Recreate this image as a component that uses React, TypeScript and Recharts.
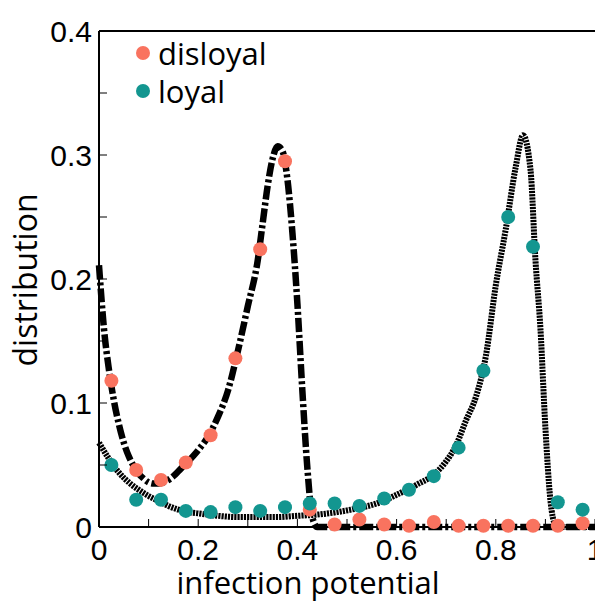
import React from 'react';
import {
  ComposedChart,
  Line,
  Scatter,
  XAxis,
  YAxis,
  ReferenceLine,
} from 'recharts';

const DISLOYAL_COLOR = '#F9735F';
const LOYAL_COLOR = '#139690';

// sampled infection potentials (bin centres)
const sampleX = [
  0.025, 0.075, 0.125, 0.175, 0.225, 0.275, 0.325, 0.375, 0.425, 0.475,
  0.525, 0.575, 0.625, 0.675, 0.725, 0.775, 0.825, 0.875, 0.925, 0.975,
];
const disloyalSamples = [
  0.118, 0.046, 0.038, 0.052, 0.074, 0.136, 0.224, 0.295, 0.014, 0.002,
  0.006, 0.002, 0.001, 0.004, 0.001, 0.001, 0.001, 0.001, 0.001, 0.003,
];
const loyalSamples = [
  0.05, 0.022, 0.022, 0.013, 0.012, 0.016, 0.013, 0.016, 0.019, 0.019,
  0.017, 0.023, 0.03, 0.041, 0.064, 0.126, 0.25, 0.226, 0.02, 0.014,
];

// model curves
const disloyalCurveX = [
  0, 0.01, 0.02, 0.03, 0.04, 0.05, 0.06, 0.07, 0.08, 0.09, 0.1, 0.11, 0.12,
  0.13, 0.14, 0.15, 0.16, 0.18, 0.2, 0.22, 0.24, 0.26, 0.28, 0.3, 0.32, 0.33,
  0.34, 0.35, 0.36, 0.37, 0.38, 0.39, 0.4, 0.41, 0.42, 0.43, 0.44, 0.6, 0.8, 1,
];
const disloyalCurveY = [
  0.211, 0.16, 0.127, 0.102, 0.083, 0.068, 0.057, 0.049, 0.043, 0.039, 0.036,
  0.035, 0.035, 0.036, 0.038, 0.041, 0.045, 0.053, 0.062, 0.073, 0.089, 0.11,
  0.142, 0.178, 0.215, 0.245, 0.275, 0.297, 0.307, 0.303, 0.28, 0.237, 0.18,
  0.11, 0.048, 0.008, 0, 0, 0, 0,
];
const loyalCurveX = [
  0, 0.02, 0.04, 0.06, 0.08, 0.1, 0.12, 0.14, 0.16, 0.18, 0.2, 0.24, 0.28,
  0.32, 0.36, 0.4, 0.44, 0.48, 0.52, 0.56, 0.6, 0.64, 0.68, 0.7, 0.72, 0.74,
  0.76, 0.78, 0.8, 0.82, 0.84, 0.855, 0.87, 0.88, 0.89, 0.9, 0.91, 0.92, 0.93, 1,
];
const loyalCurveY = [
  0.068, 0.055, 0.044, 0.036, 0.03, 0.025, 0.021, 0.017, 0.014, 0.012, 0.011,
  0.009, 0.008, 0.008, 0.008, 0.009, 0.01, 0.012, 0.015, 0.019, 0.026, 0.034,
  0.044, 0.053, 0.066, 0.086, 0.105, 0.138, 0.195, 0.24, 0.29, 0.316, 0.288,
  0.215, 0.16, 0.08, 0.022, 0.002, 0, 0,
];

const xTicks = [0, 0.1, 0.2, 0.3, 0.4, 0.5, 0.6, 0.7, 0.8, 0.9, 1];
const xTickLabels = ['0', '', '0.2', '', '0.4', '', '0.6', '', '0.8', '', '1'];
const yTicks = [0, 0.05, 0.1, 0.15, 0.2, 0.25, 0.3, 0.35, 0.4];
const yTickLabels = ['0', '', '0.1', '', '0.2', '', '0.3', '', '0.4'];

const legendItems = [
  { name: 'disloyal', color: DISLOYAL_COLOR },
  { name: 'loyal', color: LOYAL_COLOR },
];

const zip = (xs: number[], ys: number[]) => xs.map((x, i) => ({ x, y: ys[i] }));

const disloyalPoints = zip(sampleX, disloyalSamples);
const loyalPoints = zip(sampleX, loyalSamples);
const disloyalCurve = zip(disloyalCurveX, disloyalCurveY);
const loyalCurve = zip(loyalCurveX, loyalCurveY);

const TICK_FONT = '"Liberation Sans", Arial, sans-serif';
const LABEL_FONT = '"Open Sans", sans-serif';

function XTick(props: any) {
  const { x, y, index } = props;
  const label = xTickLabels[index];
  return (
    <g>
      <line x1={x} y1={y} x2={x} y2={y - 8} stroke="#000" strokeWidth={1} />
      {label && (
        <text x={x} y={y + 33} textAnchor="middle" fontFamily={TICK_FONT} fontSize={30} fill="#000">
          {label}
        </text>
      )}
    </g>
  );
}

function YTick(props: any) {
  const { x, y, index } = props;
  const label = yTickLabels[index];
  return (
    <g>
      <line x1={x} y1={y} x2={x + 8} y2={y} stroke="#000" strokeWidth={1} />
      {label && (
        <text x={x - 7} y={y + 11} textAnchor="end" fontFamily={TICK_FONT} fontSize={30} fill="#000">
          {label}
        </text>
      )}
    </g>
  );
}

const dot = (color: string) => (props: any) => (
  <circle cx={props.cx} cy={props.cy} r={7} fill={color} />
);

// legend sits inside the plot, top-left
function LegendBox() {
  return (
    <div
      style={{
        position: 'absolute',
        left: 136,
        top: 34,
        fontFamily: LABEL_FONT,
        fontSize: 31,
        color: '#000',
      }}
    >
      {legendItems.map((item) => (
        <div key={item.name} style={{ display: 'flex', alignItems: 'center', height: 38 }}>
          <span
            style={{
              display: 'inline-block',
              width: 14,
              height: 14,
              borderRadius: '50%',
              background: item.color,
              marginRight: 8,
            }}
          />
          <span style={{ lineHeight: '38px' }}>{item.name}</span>
        </div>
      ))}
    </div>
  );
}

export default function App() {
  return (
    <div style={{ position: 'absolute', left: 0, top: 0, width: 595, height: 603, background: '#fff' }}>
      <ComposedChart width={595} height={603} margin={{ top: 31, right: 0, bottom: 0, left: 0 }}>
        <XAxis
          dataKey="x"
          type="number"
          domain={[0, 1]}
          ticks={xTicks}
          interval={0}
          height={76}
          axisLine={{ stroke: '#000', strokeWidth: 2 }}
          tickLine={false}
          tickSize={0}
          tickMargin={0}
          tick={<XTick />}
          label={{
            content: () => (
              <text x={308} y={594} textAnchor="middle" fontFamily={LABEL_FONT} fontSize={31} fill="#000">
                infection potential
              </text>
            ),
          }}
        />
        <YAxis
          dataKey="y"
          type="number"
          domain={[0, 0.4]}
          ticks={yTicks}
          interval={0}
          width={99}
          axisLine={{ stroke: '#000', strokeWidth: 2 }}
          tickLine={false}
          tickSize={0}
          tickMargin={0}
          tick={<YTick />}
          label={{
            content: () => (
              <text
                x={37}
                y={280}
                transform="rotate(-90 37 280)"
                textAnchor="middle"
                fontFamily={LABEL_FONT}
                fontSize={32}
                fill="#000"
              >
                distribution
              </text>
            ),
          }}
        />
        <ReferenceLine y={0.4} stroke="#000" strokeWidth={2} />
        <Line
          data={loyalCurve}
          dataKey="y"
          type="monotone"
          stroke="#000"
          strokeWidth={6}
          strokeDasharray="2.2 1"
          dot={false}
          activeDot={false}
          isAnimationActive={false}
        />
        <Line
          data={disloyalCurve}
          dataKey="y"
          type="monotone"
          stroke="#000"
          strokeWidth={6.5}
          strokeDasharray="14 3 3 3"
          dot={false}
          activeDot={false}
          isAnimationActive={false}
        />
        <Scatter data={disloyalPoints} dataKey="y" shape={dot(DISLOYAL_COLOR)} isAnimationActive={false} />
        <Scatter data={loyalPoints} dataKey="y" shape={dot(LOYAL_COLOR)} isAnimationActive={false} />
      </ComposedChart>
      <LegendBox />
    </div>
  );
}
